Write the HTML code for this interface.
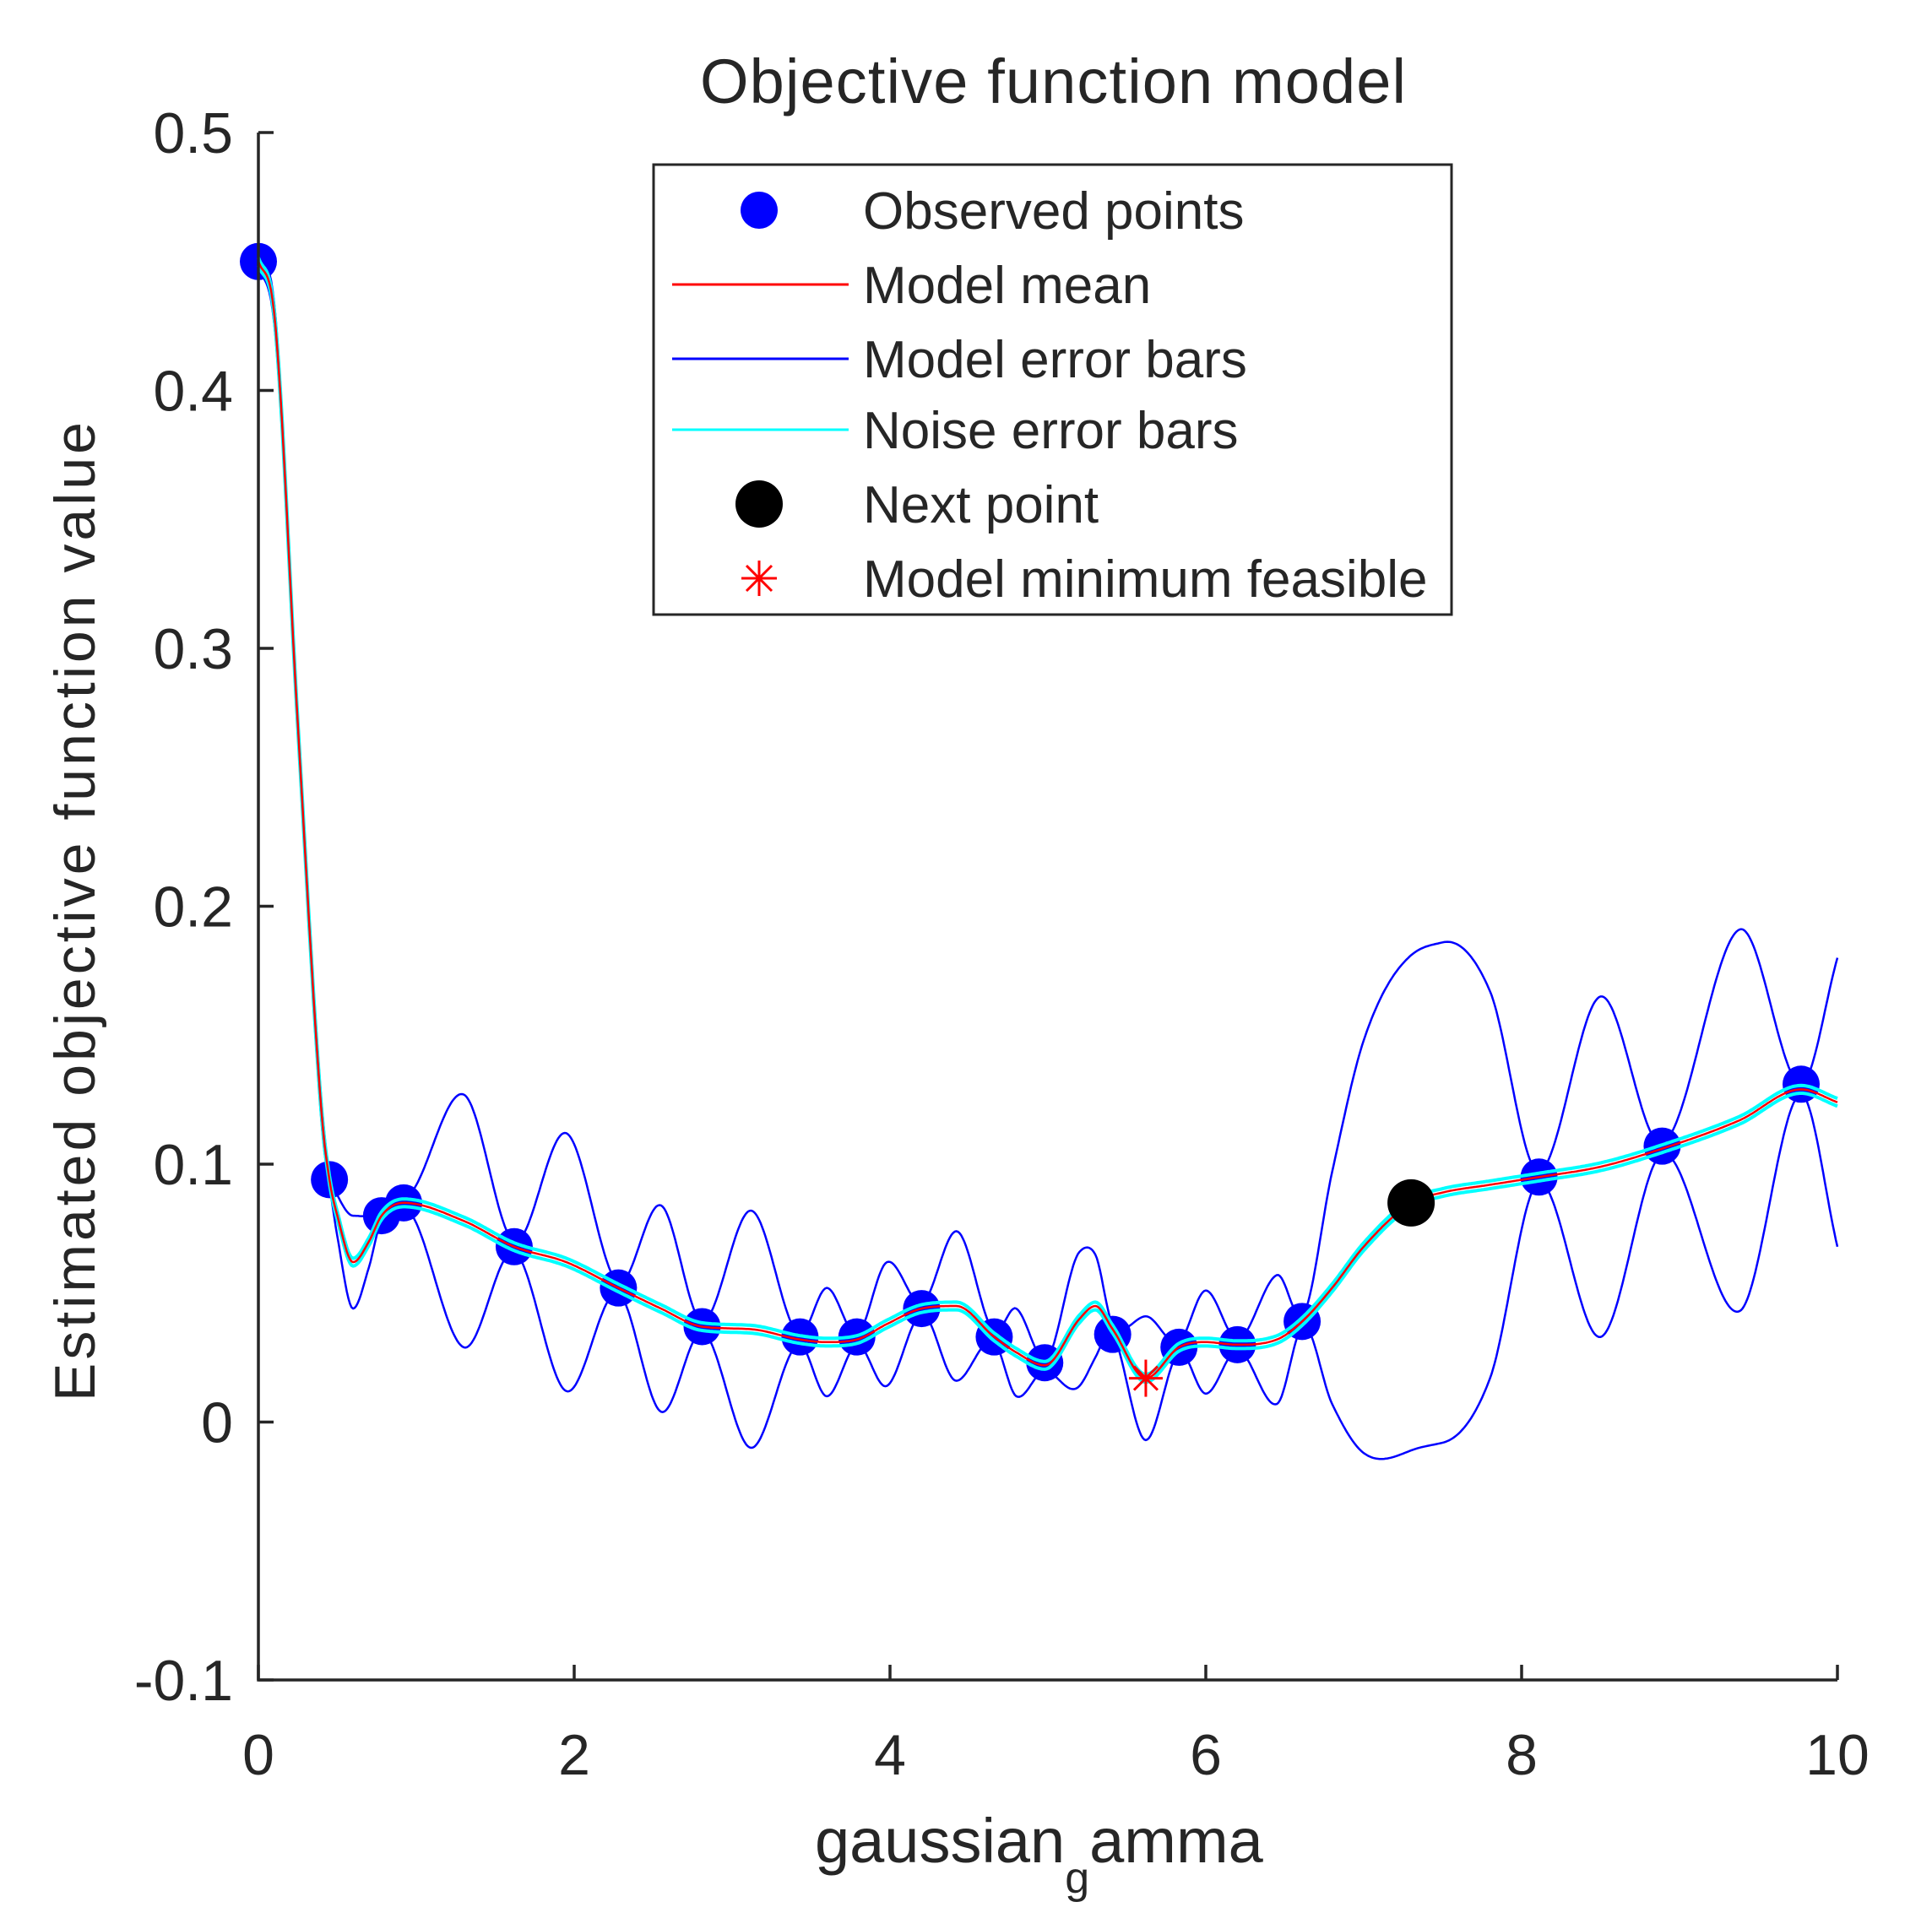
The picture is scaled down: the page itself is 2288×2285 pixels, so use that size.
<!DOCTYPE html>
<html><head><meta charset="utf-8"><style>
html,body{margin:0;padding:0;background:#fff}
svg{display:block}
text{font-family:"Liberation Sans",Arial,sans-serif;fill:#262626}
</style></head><body>
<svg id="chart" width="2288" height="2285" viewBox="0 0 2288 2285" xmlns="http://www.w3.org/2000/svg">
<rect width="2288" height="2285" fill="#fff"/>
<text x="1247" y="122" font-size="74" text-anchor="middle" fill="#000" textLength="836">Objective function model</text>
<g id="plot"></g>
<g id="axes"></g>
<text transform="translate(112,1080) rotate(-90)" font-size="68" text-anchor="middle" textLength="1160">Estimated objective function value</text>
<text x="965" y="2206" font-size="74">gaussian<tspan font-size="52" dy="36">g</tspan><tspan dy="-36">amma</tspan></text>
<g id="legend">
<rect x="774" y="195" width="945" height="533" fill="#fff" stroke="#262626" stroke-width="3"/>
<circle cx="899" cy="249" r="22" fill="#0000ff"/>
<text x="1022" y="271" font-size="62" fill="#000">Observed points</text>
<line x1="796" y1="337" x2="1005" y2="337" stroke="#ff0000" stroke-width="3"/>
<text x="1022" y="359" font-size="62" fill="#000">Model mean</text>
<line x1="796" y1="425" x2="1005" y2="425" stroke="#0000ff" stroke-width="3"/>
<text x="1022" y="447" font-size="62" fill="#000">Model error bars</text>
<line x1="796" y1="509" x2="1005" y2="509" stroke="#00ffff" stroke-width="3"/>
<text x="1022" y="531" font-size="62" fill="#000">Noise error bars</text>
<circle cx="899" cy="597" r="28" fill="#000"/>
<text x="1022" y="619" font-size="62" fill="#000">Next point</text>
<g stroke="#ff0000" stroke-width="3">
<line x1="899" y1="664" x2="899" y2="706"/><line x1="878" y1="685" x2="920" y2="685"/>
<line x1="884" y1="670" x2="914" y2="700"/><line x1="914" y1="670" x2="884" y2="700"/></g>
<text x="1022" y="707" font-size="62" fill="#000">Model minimum feasible</text>
</g>
</svg>
<script>
const obsX=[0,0.45,0.78,0.92,1.62,2.28,2.81,3.43,3.79,4.20,4.66,4.98,5.41,5.83,6.20,6.61,8.11,8.89,9.77];
const obsY=[0.45,0.094,0.080,0.085,0.068,0.052,0.037,0.033,0.033,0.044,0.033,0.023,0.034,0.029,0.030,0.039,0.095,0.107,0.131];
const knotX=[0,0.1,0.25,0.4,0.45,0.5,0.6,0.7,0.78,0.92,1.3,1.62,1.95,2.28,2.55,2.81,3.12,3.43,3.6,3.79,3.98,4.20,4.42,4.66,4.8,4.98,5.2,5.3,5.41,5.62,5.83,6.0,6.20,6.45,6.61,6.8,7.0,7.30,7.5,7.8,8.11,8.5,8.89,9.38,9.77,10];
const meanY=[0.45,0.43,0.27,0.12,0.094,0.080,0.062,0.070,0.080,0.085,0.078,0.068,0.062,0.052,0.044,0.037,0.036,0.032,0.031,0.032,0.038,0.044,0.045,0.033,0.027,0.022,0.040,0.045,0.036,0.017,0.029,0.031,0.030,0.032,0.039,0.052,0.068,0.085,0.089,0.092,0.095,0.099,0.106,0.117,0.129,0.124];
const sdY=[0.002,0.004,0.004,0.004,0.002,0.008,0.018,0.010,0.002,0.002,0.049,0.002,0.050,0.002,0.040,0.002,0.046,0.002,0.021,0.002,0.024,0.002,0.029,0.002,0.017,0.002,0.026,0.020,0.002,0.024,0.002,0.020,0.002,0.025,0.002,0.045,0.080,0.096,0.097,0.075,0.002,0.066,0.002,0.074,0.002,0.056];
const noiseSd=0.0015;
const nextX=[7.30], nextY=[0.085];
const minX=[5.62], minY=[0.017];
const xTicks=[0,2,4,6,8,10];
const yTicks=[-0.1,0,0.1,0.2,0.3,0.4,0.5];

const X0=306,X1=2176,YB=1990,YT=157;
const sx=v=>X0+(v-0)/(10-0)*(X1-X0);
const sy=v=>YB-(v+0.1)/(0.6)*(YB-YT);
const NS='http://www.w3.org/2000/svg';
function mk(tag,attrs,parent){const e=document.createElementNS(NS,tag);for(const k in attrs)e.setAttribute(k,attrs[k]);parent.appendChild(e);return e;}

function interp(xs,ys){
  const n=xs.length,d=[],m=[];
  for(let i=0;i<n-1;i++)d.push((ys[i+1]-ys[i])/(xs[i+1]-xs[i]));
  m[0]=d[0];m[n-1]=d[n-2];
  for(let i=1;i<n-1;i++){m[i]=(d[i-1]*d[i]<=0)?0:(d[i-1]+d[i])/2;}
  for(let i=0;i<n-1;i++){if(d[i]===0){m[i]=0;m[i+1]=0;continue;}const a=m[i]/d[i],b=m[i+1]/d[i],s=a*a+b*b;if(s>9){const t=3/Math.sqrt(s);m[i]=t*a*d[i];m[i+1]=t*b*d[i];}}
  return x=>{let i=0;while(i<n-2&&x>xs[i+1])i++;const h=xs[i+1]-xs[i],t=(x-xs[i])/h,t2=t*t,t3=t2*t;
    return (2*t3-3*t2+1)*ys[i]+(t3-2*t2+t)*h*m[i]+(-2*t3+3*t2)*ys[i+1]+(t3-t2)*h*m[i+1];};
}
const fm=interp(knotX,meanY), fs=interp(knotX,sdY);
const plot=document.getElementById('plot');
function pathFor(f){let s='';for(let k=0;k<=1000;k++){const x=k/100;s+=(k?'L':'M')+sx(x).toFixed(1)+','+sy(f(x)).toFixed(1);}return s;}

obsX.forEach((x,i)=>{
  const c=mk('circle',{cx:sx(x),cy:sy(obsY[i]),r:22,fill:'#0000ff'},plot);
  
  
});
const up=mk('path',{d:pathFor(x=>fm(x)+Math.abs(fs(x))),fill:'none',stroke:'#0000ff','stroke-width':2.5},plot);


const lo=mk('path',{d:pathFor(x=>fm(x)-Math.abs(fs(x))),fill:'none',stroke:'#0000ff','stroke-width':2.5},plot);


const nu=mk('path',{d:pathFor(x=>fm(x)+noiseSd),fill:'none',stroke:'#00ffff','stroke-width':4},plot);


const nl=mk('path',{d:pathFor(x=>fm(x)-noiseSd),fill:'none',stroke:'#00ffff','stroke-width':4},plot);


const mn=mk('path',{d:pathFor(fm),fill:'none',stroke:'#ff0000','stroke-width':2.5},plot);


nextX.forEach((x,i)=>{
  const c=mk('circle',{cx:sx(x),cy:sy(nextY[i]),r:28,fill:'#000'},plot);
  
  
});
minX.forEach((x,i)=>{
  const cx=sx(x),cy=sy(minY[i]);
  const g=mk('g',{stroke:'#ff0000','stroke-width':3},plot);
  
  
  mk('line',{x1:cx,y1:cy-22,x2:cx,y2:cy+22},g);
  mk('line',{x1:cx-20,y1:cy,x2:cx+20,y2:cy},g);
  mk('line',{x1:cx-14,y1:cy-14,x2:cx+14,y2:cy+14},g);
  mk('line',{x1:cx+14,y1:cy-14,x2:cx-14,y2:cy+14},g);
});

const axes=document.getElementById('axes');
const ax=mk('path',{d:`M${X0},${YT}L${X0},${YB}L${X1},${YB}`,fill:'none',stroke:'#262626','stroke-width':3.5},axes);


xTicks.forEach(v=>{
  const x=sx(v);
  const t=mk('line',{x1:x,y1:YB,x2:x,y2:YB-18,stroke:'#262626','stroke-width':3.5},axes);
  
  
  const l=mk('text',{x:x,y:2102,'font-size':68,'text-anchor':'middle'},axes);
  l.textContent=String(v);
  
  
});
yTicks.forEach(v=>{
  const y=sy(v);
  const t=mk('line',{x1:X0,y1:y,x2:X0+18,y2:y,stroke:'#262626','stroke-width':3.5},axes);
  
  
  const l=mk('text',{x:276,y:y+24,'font-size':68,'text-anchor':'end'},axes);
  l.textContent=String(Math.round(v*10)/10);
  
  
});
</script>
</body></html>
